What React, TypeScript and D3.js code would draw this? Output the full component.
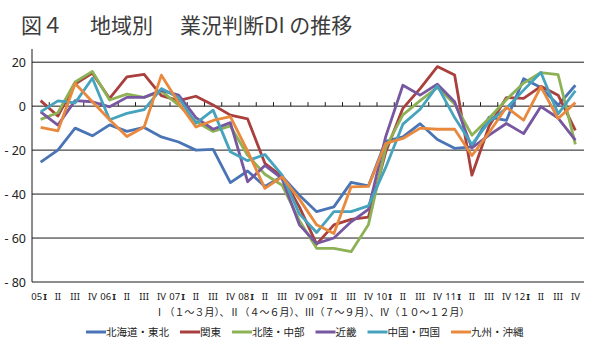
import * as d3 from "d3";
import React from "react";

const years = ["05", "06", "07", "08", "09", "10", "11", "12"];
const quarterNames = ["I", "II", "III", "IV"];
const yTicks = [20, 0, -20, -40, -60, -80];

const seriesNames = ["北海道・東北", "関東", "北陸・中部", "近畿", "中国・四国", "九州・沖縄"];
const seriesColors = ["#4a74b5", "#a9403d", "#8db255", "#7657a0", "#46a3be", "#e8893e"];

const hokkaidoTohoku = [-25.5, -20, -10, -13.5, -8.5, -11.5, -9.7, -14, -16.3, -20, -19.7, -34.8, -29.5, -36.5, -32, -40.5, -48, -45.8, -34.7, -36.3, -16, -14, -8, -15.2, -19.2, -18.5, -5, -6.5, 12.5, 8.5, 0.5, 9.5];
const kanto = [2.5, -4.5, 10, 15, 3.5, 13.3, 14.5, 4.8, 2.5, 4.5, 0.5, -4.1, -5.8, -26, -32, -45.8, -62.8, -54, -51.5, -50.5, -21, -1, 8, 18, 14.2, -31.4, -9, 3.9, 3.5, 9, 5, -11];
const hokurikuChubu = [-6, -3, 11, 15.8, 2.8, 5.5, 4, 6.8, 0.5, -7, -11.5, -9, -22.3, -31, -36, -52, -64.7, -64.7, -66.2, -54, -19, -4, 2.5, 8.5, 1, -13.2, -5.5, 3, 10.5, 15.3, 14.3, -17.4];
const kinki = [-2.6, -8.6, 2.5, 2, -0.3, 4, 4, 7.2, 5, -5.2, -10.5, -7.5, -34.4, -27, -33, -54, -62.5, -60, -52.6, -47, -14, 9.5, 5, 10, 2, -19, -13.2, -7.9, -12.5, -0.2, -5.4, -15.5];
const chugokuShikoku = [-2.6, 2.4, 1.5, 12.7, -6.2, -3.3, -1.6, 8, 3.8, -7.8, -1.8, -20.8, -24.8, -22, -31.4, -49, -57.5, -48, -48, -45.4, -28, -8.2, -1.4, 9.2, -5.2, -17.5, -7, -1, 7.3, 15.3, -3.5, 7];
const kyushuOkinawa = [-9.7, -11.2, 10.3, 2, -6.2, -13.8, -9.5, 14.1, 1.5, -9.5, -6.5, -4.8, -20.5, -37.4, -32.2, -42.3, -54, -57.9, -36.7, -36.5, -17, -14.7, -10, -10.5, -10.5, -22.5, -12, -0.5, -6.4, 8.8, -5.6, 1.6];

const allSeries = [hokkaidoTohoku, kanto, hokurikuChubu, kinki, chugokuShikoku, kyushuOkinawa];

const W = 598;
const H = 350;
const plot = { left: 32, right: 584, top: 49, bottom: 282 };
const jpFont = "'Noto Sans CJK JP', 'Noto Sans', sans-serif";
const latinFont = "'Noto Sans', 'DejaVu Sans', sans-serif";

const quarters = years.flatMap((y) => quarterNames.map((q) => ({ key: `${y}-${q}`, year: y, q })));

export default function App() {
  const x = d3
    .scalePoint<string>()
    .domain(quarters.map((d) => d.key))
    .range([plot.left, plot.right])
    .padding(0.5);
  const step = x.step();

  const y = d3.scaleLinear().domain([-80, 26]).range([plot.bottom, plot.top]);

  const line = d3
    .line<number>()
    .x((_, i) => x(quarters[i].key) as number)
    .y((d) => y(d));

  // legend layout: sample line + label, packed left to right
  let lx = 86;
  const legend = seriesNames.map((name, i) => {
    const item = { name, color: seriesColors[i], x: lx };
    lx += 20 + name.length * 10.5 + 11;
    return item;
  });

  return (
    <svg
      width={W}
      height={H}
      style={{ position: "absolute", left: 0, top: 0, background: "#fff" }}
      fontFamily={jpFont}
    >
      <text y={33} fontSize={21} fill="#3c3c3c">
        <tspan x={21}>図４</tspan>
        <tspan x={90}>地域別</tspan>
        <tspan x={180}>業況判断DI の推移</tspan>
      </text>

      {/* grid lines */}
      {yTicks.map((t) => (
        <line key={t} x1={plot.left} x2={plot.right} y1={y(t)} y2={y(t)} stroke="#1a1a1a" strokeWidth={1} />
      ))}
      <line x1={plot.left} x2={plot.left} y1={plot.top} y2={plot.bottom} stroke="#1a1a1a" strokeWidth={1} />

      {/* category ticks on the zero line */}
      {quarters.slice(0, -1).map((d) => (
        <line
          key={d.key}
          x1={(x(d.key) as number) + step / 2}
          x2={(x(d.key) as number) + step / 2}
          y1={y(0)}
          y2={y(0) - 4}
          stroke="#1a1a1a"
          strokeWidth={1}
        />
      ))}

      {yTicks.map((t) => (
        <text key={t} x={26} y={y(t) + 4.5} textAnchor="end" fontSize={12.5} fontFamily={latinFont} fill="#222">
          {t < 0 ? `- ${-t}` : t}
        </text>
      ))}

      {/* quarter labels: year + bold I for the first quarter */}
      {quarters.map((d) => {
        const cx = x(d.key) as number;
        if (d.q === "I") {
          return (
            <g key={d.key} fontFamily={latinFont} fontSize={9.5} fill="#222">
              <text x={cx + 1.5} y={300} textAnchor="end">
                {d.year}
              </text>
              <text x={cx + 4.5} y={300} textAnchor="middle" fontWeight={700}>
                {d.q}
              </text>
            </g>
          );
        }
        return (
          <text key={d.key} x={cx} y={300} textAnchor="middle" fontSize={9.5} fontFamily={latinFont} fill="#222">
            {d.q}
          </text>
        );
      })}

      {allSeries.map((s, i) => (
        <path
          key={seriesNames[i]}
          d={line(s) as string}
          fill="none"
          stroke={seriesColors[i]}
          strokeWidth={2.8}
          strokeLinejoin="round"
        />
      ))}

      <text x={312} y={316} textAnchor="middle" fontSize={10} fill="#222">
        Ⅰ（１～３月）、Ⅱ（４～６月）、Ⅲ（７～９月）、Ⅳ（１０～１２月）
      </text>

      {legend.map((l) => (
        <g key={l.name}>
          <line x1={l.x} x2={l.x + 20} y1={332} y2={332} stroke={l.color} strokeWidth={3} />
          <text x={l.x + 20} y={336} fontSize={10.5} fill="#222">
            {l.name}
          </text>
        </g>
      ))}
    </svg>
  );
}
